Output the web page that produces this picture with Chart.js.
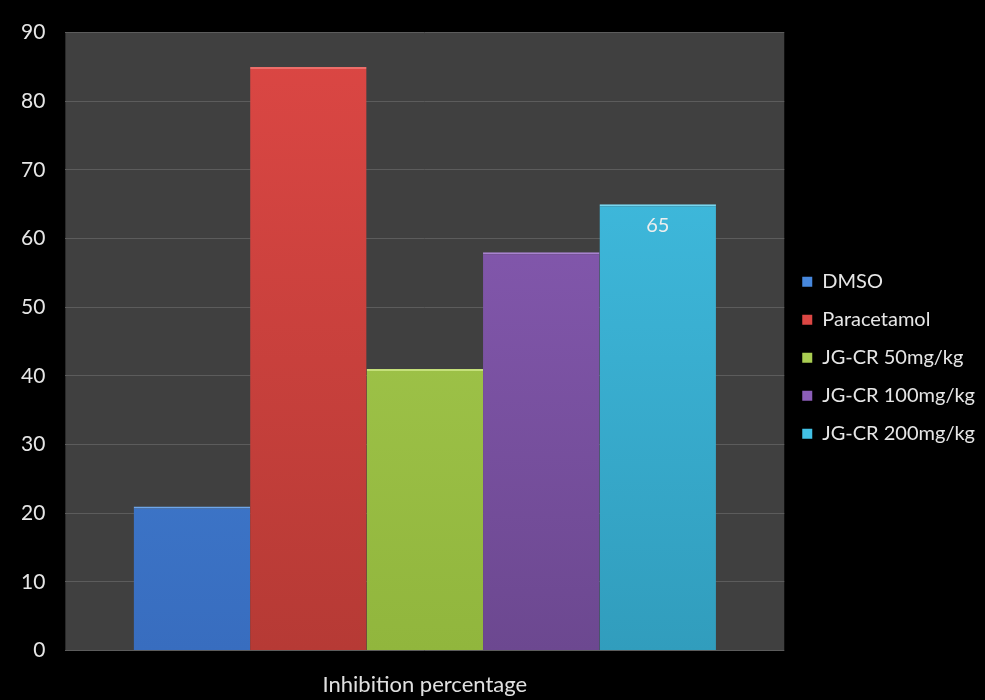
<!DOCTYPE html>
<html>
<head>
<meta charset="utf-8">
<script src="https://cdn.jsdelivr.net/npm/chart.js@4"></script>
<style>
  html, body { margin: 0; padding: 0; background: #000; }
</style>
</head>
<body>
<canvas id="grafico" width="985" height="700"></canvas>
<script>
// Datos del gráfico
const categorias = ['Inhibition percentage'];
const series = ['DMSO', 'Paracetamol', 'JG-CR 50mg/kg', 'JG-CR 100mg/kg', 'JG-CR 200mg/kg'];
const valores = [21, 85, 41, 58, 65];
const etiquetaValor = [null, null, null, null, '65'];

// colores: arriba, abajo, borde claro
const coloresArriba = ['#4788dd', '#dc4744', '#a9cd52', '#8c5eb9', '#42c1e5'];
const coloresAbajo = ['#386dbf', '#b63a35', '#91b63d', '#6c4890', '#319dbd'];
const coloresBorde = ['#6ea6ea', '#ec6e6a', '#c4e07a', '#a983d0', '#79d7f0'];

function degradado(ctx, i) {
  const area = ctx.chart.chartArea;
  if (!area) return coloresArriba[i];
  const g = ctx.chart.ctx.createLinearGradient(0, area.top, 0, area.bottom);
  g.addColorStop(0, coloresArriba[i]);
  g.addColorStop(1, coloresAbajo[i]);
  return g;
}

// fondo gris del área de trazado
const fondoArea = {
  id: 'fondoArea',
  beforeDraw(chart) {
    const { ctx, chartArea: a } = chart;
    ctx.save();
    ctx.fillStyle = '#404040';
    ctx.fillRect(a.left, a.top, a.right - a.left, a.bottom - a.top);
    ctx.restore();
  }
};

// etiqueta del valor dentro de la barra
const etiquetas = {
  id: 'etiquetas',
  afterDatasetsDraw(chart) {
    const { ctx } = chart;
    ctx.save();
    ctx.fillStyle = '#eeeeee';
    ctx.font = '20px Lato';
    ctx.textAlign = 'center';
    ctx.textBaseline = 'top';
    chart.data.datasets.forEach((ds, i) => {
      if (!etiquetaValor[i]) return;
      const barra = chart.getDatasetMeta(i).data[0];
      ctx.fillText(etiquetaValor[i], barra.x, barra.y + 11);
    });
    ctx.restore();
  }
};

const ctx = document.getElementById('grafico').getContext('2d');
new Chart(ctx, {
  type: 'bar',
  data: {
    labels: categorias,
    datasets: series.map((nombre, i) => ({
      label: nombre,
      data: [valores[i]],
      backgroundColor: (c) => degradado(c, i),
      borderColor: coloresBorde[i],
      borderWidth: { top: 2, left: 0, right: 0, bottom: 0 },
      borderSkipped: false,
      barPercentage: 1.0,
      categoryPercentage: 0.81
    }))
  },
  options: {
    responsive: false,
    animation: false,
    devicePixelRatio: 1,
    layout: { padding: { top: 28, left: 1, bottom: -19, right: 0 } },
    plugins: {
      tooltip: { enabled: false },
      legend: {
        position: 'right',
        fullSize: false,
        // título vacío solo para bajar un poco las entradas
        title: { display: true, text: ' ', font: { size: 12 }, padding: 9 },
        labels: {
          color: '#e6e6e6',
          font: { family: 'Lato', size: 20 },
          boxWidth: 10,
          boxHeight: 10,
          padding: 18,
          generateLabels(chart) {
            return chart.data.datasets.map((ds, i) => ({
              text: ds.label,
              fillStyle: coloresArriba[i],
              strokeStyle: coloresArriba[i],
              lineWidth: 0,
              fontColor: '#e6e6e6',
              datasetIndex: i
            }));
          }
        }
      }
    },
    scales: {
      x: {
        grid: { display: false, drawTicks: false },
        border: { display: false },
        ticks: { color: '#e0e0e0', font: { family: 'Lato', size: 22 }, padding: 21 }
      },
      y: {
        min: 0,
        max: 90,
        ticks: { stepSize: 10, color: '#e6e6e6', font: { family: 'Lato', size: 21 }, padding: 20 },
        grid: { color: '#5c5c5c', lineWidth: 1, drawTicks: false },
        border: { display: false }
      }
    }
  },
  plugins: [fondoArea, etiquetas]
});
</script>
</body>
</html>
